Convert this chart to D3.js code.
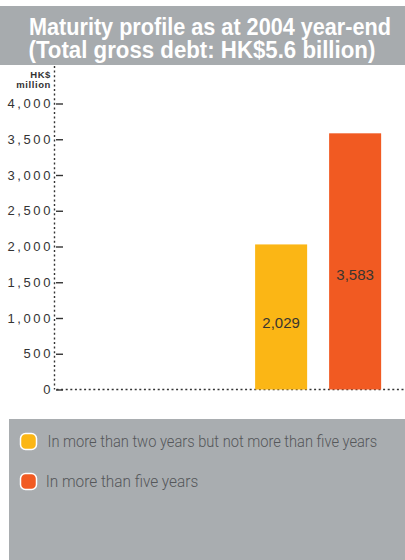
<!DOCTYPE html>
<html>
<head>
<meta charset="utf-8">
<script src="https://cdn.jsdelivr.net/npm/d3@7"></script>
<style>
  html, body { margin: 0; padding: 0; background: #fff; }
  svg { display: block; }
</style>
</head>
<body>
<svg id="chart" width="405" height="560"></svg>
<script>
// Maturity bands (HK$ million); the two nearer bands carry no debt.
const maturityBands = [
  "Within one year",
  "In more than one year but not more than two years",
  "In more than two years but not more than five years",
  "In more than five years"
];
const debtHKDm = [null, null, 2029, 3583];
const bandColors = ["#fbb615", "#fbb615", "#fbb615", "#f15a22"];
const yTicks = [0, 500, 1000, 1500, 2000, 2500, 3000, 3500, 4000];
const titleLines = [
  "Maturity profile as at 2004 year-end",
  "(Total gross debt: HK$5.6 billion)"
];
const unitLines = ["HK$", "million"];

const W = 405, H = 560;
const svg = d3.select("#chart");
svg.append("rect").attr("width", W).attr("height", H).attr("fill", "#fff");

// Squeeze a text horizontally so that it spans exactly `len` pixels
function fitWidth(sel, layout) {
  sel.each(function (d, i) {
    const L = layout[i];
    const t = d3.select(this).attr("x", 0).attr("y", 0);
    const natural = this.getComputedTextLength();
    t.attr("transform", `translate(${L.x},${L.y}) scale(${L.len / natural},1)`);
  });
}

// Title banner
svg.append("rect").attr("x", 0).attr("y", 6).attr("width", W).attr("height", 59)
  .attr("fill", "#a7abae");
const sans = "'Liberation Sans', Arial, Helvetica, sans-serif";
const titleLayout = [{x: 29, y: 34.5, len: 362}, {x: 28.5, y: 58, len: 347}];
svg.selectAll("text.title").data(titleLines).join("text")
  .attr("class", "title")
  .attr("fill", "#fff")
  .style("font-family", sans)
  .style("font-weight", "bold")
  .style("font-size", "24.5px")
  .text(d => d)
  .call(fitWidth, titleLayout);

// Scales
const axisX = 54.5, baseY = 389.5;
const y = d3.scaleLinear().domain([0, 4000]).range([baseY, 103.5]);
const x = d3.scaleBand().domain(maturityBands).range([54, 405])
  .paddingInner(0.297).paddingOuter(0.52).align(0.69);

const ink = "#333";

// Unit label
svg.selectAll("text.unit").data(unitLines).join("text")
  .attr("class", "unit")
  .attr("x", 51)
  .attr("y", (d, i) => 78 + i * 10)
  .attr("text-anchor", "end")
  .attr("fill", ink)
  .style("font-family", sans)
  .style("font-weight", "bold")
  .style("font-size", "9.5px")
  .style("letter-spacing", "0.6px")
  .text(d => d);

// Y axis: labels on the left, short tick marks to the right of the dotted line
const yAxis = d3.axisLeft(y)
  .tickValues(yTicks)
  .tickFormat(d3.format(","))
  .tickSizeInner(-8.5)
  .tickSizeOuter(0)
  .tickPadding(2);
const gy = svg.append("g").attr("transform", `translate(${axisX},0)`).call(yAxis);
gy.select(".domain").remove();
gy.selectAll(".tick line").attr("x1", 1.5).attr("stroke", ink).attr("stroke-width", 1.4);
gy.selectAll(".tick text")
  .attr("x", -1.5)
  .attr("fill", ink)
  .style("font-family", sans)
  .style("font-size", "13px")
  .style("letter-spacing", "2.6px");

// Dotted axis lines
svg.append("line")
  .attr("x1", axisX).attr("x2", axisX).attr("y1", 66).attr("y2", baseY)
  .attr("stroke", ink).attr("stroke-width", 1.4).attr("stroke-dasharray", "2,2.6");
svg.append("line")
  .attr("x1", axisX + 2).attr("x2", W).attr("y1", baseY).attr("y2", baseY)
  .attr("stroke", ink).attr("stroke-width", 1.4).attr("stroke-dasharray", "2,2.6");

// Bars
const rows = maturityBands.map((b, i) => ({band: b, value: debtHKDm[i], color: bandColors[i]}))
  .filter(d => d.value != null);

svg.selectAll("rect.bar").data(rows).join("rect")
  .attr("class", "bar")
  .attr("x", d => x(d.band))
  .attr("width", x.bandwidth())
  .attr("y", d => y(d.value))
  .attr("height", d => baseY - y(d.value))
  .attr("fill", d => d.color);

svg.selectAll("text.val").data(rows).join("text")
  .attr("class", "val")
  .attr("x", d => x(d.band) + x.bandwidth() / 2)
  .attr("y", d => y(d.value * 0.427))
  .attr("text-anchor", "middle")
  .attr("fill", "#3a3530")
  .style("font-family", sans)
  .style("font-size", "15px")
  .text(d => d3.format(",")(d.value));

// Legend panel
svg.append("rect").attr("x", 9).attr("y", 419).attr("width", W - 9).attr("height", H - 419)
  .attr("fill", "#a9adb0");
const legendMarks = [{my: 441.5}, {my: 481.5}];
const legendText = [
  {x: 47.5, y: 447, len: 330},
  {x: 45.7, y: 487, len: 152.6}
];
const lg = svg.selectAll("g.legend").data(rows).join("g").attr("class", "legend");
lg.append("rect")
  .attr("x", 20.5)
  .attr("y", (d, i) => legendMarks[i].my - 8)
  .attr("width", 16).attr("height", 16)
  .attr("rx", 5).attr("ry", 5)
  .attr("fill", d => d.color)
  .attr("stroke", "#fff").attr("stroke-width", 1.5);
svg.selectAll("text.legend-label").data(rows).join("text")
  .attr("class", "legend-label")
  .attr("fill", "#55575a")
  .style("font-family", "Roboto, 'Liberation Sans', sans-serif")
  .style("font-weight", 300)
  .style("font-size", "17px")
  .text(d => d.band)
  .call(fitWidth, legendText);
</script>
</body>
</html>
